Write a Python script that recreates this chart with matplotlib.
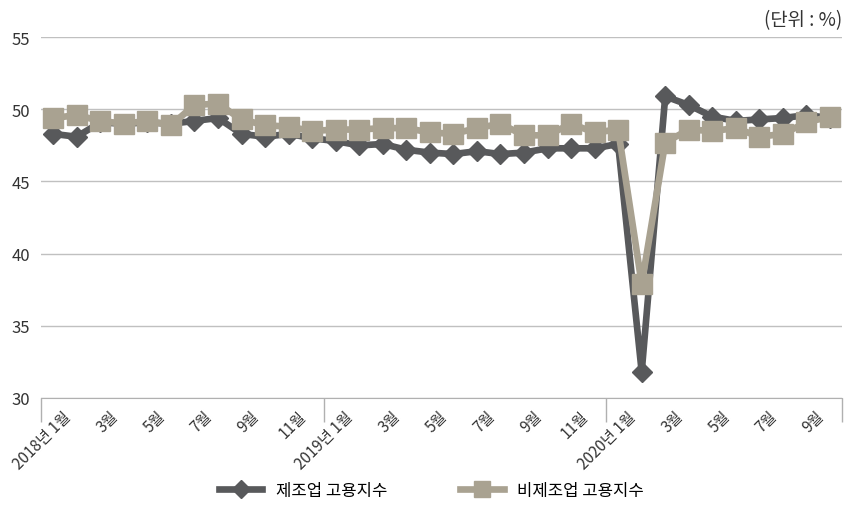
import numpy as np
import matplotlib.pyplot as plt
import matplotlib.transforms as mtransforms

plt.rcParams['font.family'] = ['Noto Sans CJK KR', 'DejaVu Sans']
plt.rcParams['axes.unicode_minus'] = False

# 2018년 1월 ~ 2020년 10월 월별 고용지수
months = [f'{y}-{m}' for y in (2018, 2019) for m in range(1, 13)] + [f'2020-{m}' for m in range(1, 11)]
mfg = [48.3, 48.1, 49.1, 49.0, 49.1, 49.0, 49.2, 49.4, 48.3, 48.1, 48.3, 48.0,
       47.8, 47.5, 47.6, 47.2, 47.0, 46.9, 47.1, 46.9, 47.0, 47.3, 47.3, 47.3,
       47.6, 31.8, 50.9, 50.3, 49.5, 49.2, 49.3, 49.4, 49.6, 49.4]
nonmfg = [49.4, 49.6, 49.2, 49.0, 49.2, 48.9, 50.3, 50.4, 49.3, 48.9, 48.8, 48.5,
          48.6, 48.6, 48.7, 48.7, 48.4, 48.3, 48.7, 49.0, 48.2, 48.2, 49.0, 48.4,
          48.6, 37.9, 47.7, 48.6, 48.5, 48.7, 48.1, 48.3, 49.1, 49.5]

def month_label(s):
    y, m = s.split('-')
    return f'{y}년 {m}월' if m == '1' else f'{m}월'

x = np.arange(len(months))

fig = plt.figure(figsize=(8.46, 5.10), dpi=100)
ax = fig.add_axes([0.049, 0.218, 0.946, 0.707])

ax.plot(x, mfg, color='#58595b', lw=4.8, marker='D', ms=10.5, label='제조업 고용지수', zorder=3)
ax.plot(x, nonmfg, color='#a9a291', lw=4.8, marker='s', ms=14, label='비제조업 고용지수', zorder=4)

ax.set_ylim(30, 55)
ax.set_yticks(range(30, 56, 5))
ax.set_xlim(-0.5, len(months) - 0.5)
ax.grid(axis='y', color='#c0c0c0', lw=1)
ax.set_axisbelow(True)

for s in ('top', 'right', 'left'):
    ax.spines[s].set_visible(False)
ax.spines['bottom'].set_color('#b0b0b0')

ax.tick_params(axis='y', length=0, labelsize=12, labelcolor='#333333', pad=8)

# 두 달 간격 라벨, 연도 경계에 눈금
ticks = x[::2]
ax.set_xticks(ticks)
ax.set_xticklabels([month_label(months[i]) for i in ticks], rotation=45,
                   ha='right', va='top', rotation_mode='anchor', fontsize=11, color='#333333')
ax.tick_params(axis='x', which='major', length=0, pad=7)
bounds = [-0.5, 11.5, 23.5, len(months) - 0.5]
ax.set_xticks(bounds, minor=True)
ax.tick_params(axis='x', which='minor', length=17, color='#b0b0b0', width=1)

offset = mtransforms.ScaledTranslation(6.5 / 72, 0, fig.dpi_scale_trans)
for lbl in ax.get_xticklabels():
    lbl.set_transform(lbl.get_transform() + offset)

fig.text(0.995, 0.96, '(단위 : %)', ha='right', va='center', fontsize=13.5, color='#333333')

fig.legend(loc='lower center', bbox_to_anchor=(0.51, -0.01), ncol=2, frameon=False,
           fontsize=12, handlelength=2.6, columnspacing=4.4, markerscale=0.85)

fig.savefig('out.png', dpi=100)
